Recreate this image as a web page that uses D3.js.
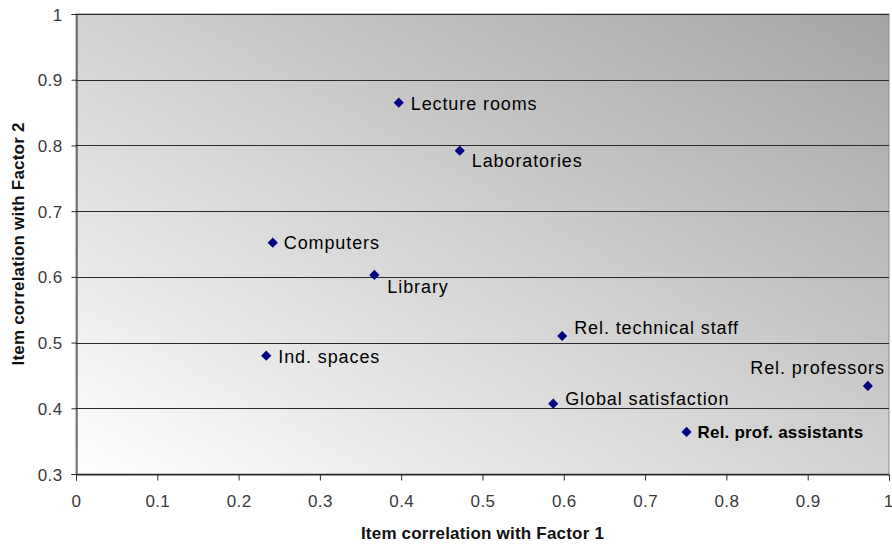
<!DOCTYPE html>
<html>
<head>
<meta charset="utf-8">
<script src="https://cdn.jsdelivr.net/npm/d3@7"></script>
<style>
  html, body { margin: 0; padding: 0; background: #ffffff; }
  svg { display: block; font-family: "Liberation Sans", Arial, sans-serif; }
</style>
</head>
<body>
<svg id="chart" width="892" height="546"></svg>
<script>
// Item loadings on the two extracted factors
const items    = ["Lecture rooms", "Laboratories", "Computers", "Library", "Rel. technical staff",
                  "Ind. spaces", "Rel. professors", "Global satisfaction", "Rel. prof. assistants"];
const factor1  = [0.397, 0.472, 0.242, 0.367, 0.598, 0.234, 0.974, 0.587, 0.751];
const factor2  = [0.865, 0.792, 0.652, 0.603, 0.510, 0.480, 0.434, 0.407, 0.364];
// label placement relative to each marker: [dx, dy, anchor, weight]
const labelPos = [[12, 7, "start", "normal"], [12, 16, "start", "normal"], [11, 6, "start", "normal"],
                  [13, 18, "start", "normal"], [12, -2, "start", "normal"], [12, 7, "start", "normal"],
                  [17, -12, "end", "normal"], [12, 1, "start", "normal"], [11, 6, "start", "bold"]];
const xTicks = [0, 0.1, 0.2, 0.3, 0.4, 0.5, 0.6, 0.7, 0.8, 0.9, 1];
const yTicks = [0.3, 0.4, 0.5, 0.6, 0.7, 0.8, 0.9, 1];

const svg = d3.select("#chart");
const m = { left: 76, right: 889, top: 14, bottom: 474 };

const x = d3.scaleLinear().domain([0, 1]).range([m.left, m.right]);
const y = d3.scaleLinear().domain([0.3, 1]).range([m.bottom, m.top]);

// plot area gradient, light at bottom-left to grey at top-right
const defs = svg.append("defs");
const grad = defs.append("linearGradient").attr("id", "bg")
  .attr("x1", 0).attr("y1", 1).attr("x2", 1).attr("y2", 0);
grad.append("stop").attr("offset", "0%").attr("stop-color", "#fefefe");
grad.append("stop").attr("offset", "100%").attr("stop-color", "#a4a4a4");

svg.append("rect")
  .attr("x", m.left).attr("y", m.top)
  .attr("width", m.right - m.left).attr("height", m.bottom - m.top)
  .attr("fill", "url(#bg)")
  .attr("stroke", "#8c8c8c").attr("stroke-width", 1);

// horizontal gridlines
svg.append("g").selectAll("line").data(yTicks).join("line")
  .attr("x1", m.left).attr("x2", m.right)
  .attr("y1", d => Math.round(y(d)) + 0.5).attr("y2", d => Math.round(y(d)) + 0.5)
  .attr("stroke", "#2a2a2a").attr("stroke-width", 1);

// axes
const yAxis = svg.append("g")
  .attr("transform", `translate(${m.left + 0.5},0)`)
  .call(d3.axisLeft(y).tickValues(yTicks).tickSize(5).tickPadding(9)
        .tickFormat(d => d === 1 ? "1" : d3.format(".1f")(d)));
const xAxis = svg.append("g")
  .attr("transform", `translate(0,${Math.round(y(0.3)) + 0.5})`)
  .call(d3.axisBottom(x).tickValues(xTicks).tickSize(6).tickPadding(14)
        .tickFormat(d => (d === 0 || d === 1) ? String(d) : d3.format(".1f")(d)));

[xAxis, yAxis].forEach(a => {
  a.select(".domain").attr("stroke", "#2a2a2a");
  a.selectAll(".tick line").attr("stroke", "#2a2a2a");
  a.selectAll(".tick text")
    .attr("font-family", "Liberation Sans, Arial, sans-serif")
    .attr("font-size", 17).attr("fill", "#3a3a3a").attr("letter-spacing", 0.4);
});
yAxis.selectAll(".tick text").attr("dy", "0.36em");
// keep the last x label inside the canvas edge
xAxis.selectAll(".tick text").filter(d => d === 1).attr("text-anchor", "end").attr("dx", 4);

// markers
const pts = items.map((name, i) => ({ name, f1: factor1[i], f2: factor2[i], p: labelPos[i] }));
svg.append("g").selectAll("path").data(pts).join("path")
  .attr("d", d3.symbol().type(d3.symbolSquare).size(52))
  .attr("transform", d => `translate(${x(d.f1)},${y(d.f2)}) rotate(45)`)
  .attr("fill", "#000080");

// item labels
svg.append("g").selectAll("text").data(pts).join("text")
  .attr("x", d => x(d.f1) + d.p[0])
  .attr("y", d => y(d.f2) + d.p[1])
  .attr("text-anchor", d => d.p[2])
  .attr("font-size", d => d.p[3] === "bold" ? 17 : 18)
  .attr("font-weight", d => d.p[3])
  .attr("letter-spacing", d => d.p[3] === "bold" ? 0.2 : 0.9)
  .attr("fill", "#000")
  .text(d => d.name);

// axis titles
svg.append("text")
  .attr("x", (m.left + m.right) / 2).attr("y", 539)
  .attr("text-anchor", "middle").attr("font-size", 17).attr("font-weight", "bold")
  .attr("letter-spacing", 0.2).attr("fill", "#111")
  .text("Item correlation with Factor 1");
svg.append("text")
  .attr("transform", `translate(24,${(m.top + m.bottom) / 2}) rotate(-90)`)
  .attr("text-anchor", "middle").attr("font-size", 17).attr("font-weight", "bold")
  .attr("letter-spacing", 0.2).attr("fill", "#111")
  .text("Item correlation with Factor 2");
</script>
</body>
</html>
